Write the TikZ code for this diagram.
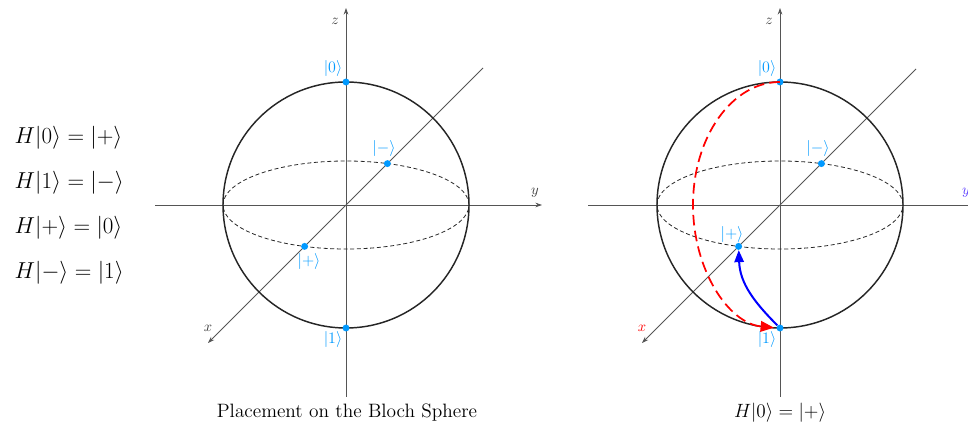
\documentclass[tikz,border=0pt]{standalone}
\usetikzlibrary{arrows.meta}
\definecolor{ketblue}{RGB}{0,153,255}
\definecolor{axisgray}{RGB}{85,85,85}
\definecolor{ylabblue}{RGB}{90,60,255}

\begin{document}
\begin{tikzpicture}[
  x=0.75pt,y=0.75pt,
  >={Stealth[length=5pt,width=3.5pt]},
  axis/.style={axisgray,line width=0.6pt},
  sphere/.style={black!85,line width=1.1pt},
  equator/.style={black!85,line width=0.6pt,dash pattern=on 3pt off 2pt},
  ket/.style={circle,fill=ketblue,inner sep=0pt,minimum size=5.2pt},
  ketlbl/.style={text=ketblue,font=\fontsize{12.5}{14}\selectfont,inner sep=1pt},
  axlbl/.style={font=\fontsize{11}{13}\selectfont,text=black!75},
  eq/.style={anchor=west,font=\fontsize{17}{20}\selectfont},
  caption/.style={font=\fontsize{14.5}{17}\selectfont}
]
  \useasboundingbox (0,0) rectangle (968,428);
  \clip (0,0) rectangle (968,428);

  % Hadamard action on the basis states
  \node[eq] (eqA) at (10,290) {$H|0\rangle = |+\rangle$};
  \node[eq] (eqB) at (10,245) {$H|1\rangle = |-\rangle$};
  \node[eq] (eqC) at (10,200) {$H|+\rangle = |0\rangle$};
  \node[eq] (eqD) at (10,155) {$H|-\rangle = |1\rangle$};

  % left sphere: where the states sit
  \begin{scope}[shift={(346,223)}]
    \draw[axis,->] (0,-192) -- (0,197);
    \draw[axis,->] (-191,0) -- (196,0);
    \draw[axis,->] (137,137) -- (-138,-138);
    \draw[sphere] (0,0) circle[radius=123];
    \draw[equator] (0,0) ellipse[x radius=123,y radius=44];
    \node[axlbl] (zL) at (-11,184) {$z$};
    \node[axlbl] (yL) at (189,12) {$y$};
    \node[axlbl] (xL) at (-138,-123) {$x$};
    \node[ket] (zeroL) at (0,123) {};
    \node[ket] (oneL) at (0,-123) {};
    \node[ket] (minusL) at (41.4,41.4) {};
    \node[ket] (plusL) at (-41.4,-41.4) {};
    \node[ketlbl] (zeroLt) at (-13,136) {$|0\rangle$};
    \node[ketlbl] (oneLt) at (-13,-135) {$|1\rangle$};
    \node[ketlbl] (minusLt) at (38,56) {$|-\rangle$};
    \node[ketlbl] (plusLt) at (-37,-57) {$|+\rangle$};
  \end{scope}
  \node[caption] (capL) at (347,15) {Placement on the Bloch Sphere};

  % right sphere: H as a rotation
  \begin{scope}[shift={(780,223)}]
    \draw[axis,->] (0,-192) -- (0,197);
    \draw[axis,->] (-192,0) -- (196,0);
    \draw[axis,->] (136,136) -- (-138,-138);
    \draw[sphere] (0,0) circle[radius=123];
    \draw[equator] (0,0) ellipse[x radius=123,y radius=44];
    \node[axlbl] (zR) at (-11,184) {$z$};
    \node[axlbl,text=ylabblue] (yR) at (186,12) {$y$};
    \node[axlbl,text=red] (xR) at (-138,-123) {$x$};
    \node[ket] (zeroR) at (0,123) {};
    \node[ket] (oneR) at (0,-123) {};
    \node[ket] (minusR) at (41.4,41.4) {};
    \node[ket] (plusR) at (-41.4,-41.4) {};
    \node[ketlbl] (zeroRt) at (-13,136) {$|0\rangle$};
    \node[ketlbl] (oneRt) at (-13,-135) {$|1\rangle$};
    \node[ketlbl] (minusRt) at (38,56) {$|-\rangle$};
    \node[ketlbl] (plusRt) at (-48,-30) {$|+\rangle$};
    \draw[red,line width=1.3pt,dash pattern=on 8pt off 4pt,
      -{Triangle[length=10pt,width=8pt]}]
      (zeroR.center) arc[start angle=90,end angle=266,x radius=87,y radius=123];
    \draw[blue,line width=1.5pt,-{Triangle[length=9pt,width=7pt]}]
      (oneR) to[out=135,in=-88] (plusR);
  \end{scope}
  \node[eq,anchor=center,font=\fontsize{14}{17}\selectfont] (capR) at (780,15)
    {$H|0\rangle = |+\rangle$};
\end{tikzpicture}
\end{document}
